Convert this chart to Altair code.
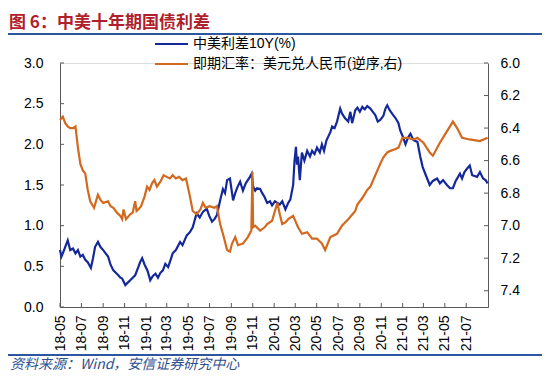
import altair as alt
import pandas as pd

# ---------------- data ----------------
series_names = ["中美利差10Y(%)", "即期汇率：美元兑人民币(逆序,右)"]

spread = [
    ("2018-05-01", 0.70), ("2018-05-05", 0.62), ("2018-05-09", 0.66), ("2018-05-16", 0.74),
    ("2018-05-23", 0.82), ("2018-05-30", 0.70), ("2018-06-07", 0.72), ("2018-06-14", 0.66),
    ("2018-06-21", 0.70), ("2018-06-28", 0.62), ("2018-07-05", 0.64), ("2018-07-12", 0.58),
    ("2018-07-19", 0.55), ("2018-07-28", 0.48), ("2018-08-03", 0.60), ("2018-08-09", 0.74),
    ("2018-08-17", 0.80), ("2018-08-24", 0.74), ("2018-09-01", 0.70), ("2018-09-08", 0.66),
    ("2018-09-15", 0.62), ("2018-09-22", 0.52), ("2018-09-30", 0.45), ("2018-10-07", 0.42),
    ("2018-10-14", 0.39), ("2018-10-20", 0.36), ("2018-10-25", 0.35), ("2018-11-03", 0.27),
    ("2018-11-10", 0.30), ("2018-11-17", 0.33), ("2018-11-24", 0.36), ("2018-12-01", 0.39),
    ("2018-12-10", 0.49), ("2018-12-15", 0.55), ("2018-12-21", 0.60), ("2018-12-28", 0.52),
    ("2019-01-05", 0.45), ("2019-01-13", 0.33), ("2019-01-20", 0.38), ("2019-01-28", 0.41),
    ("2019-02-04", 0.36), ("2019-02-11", 0.42), ("2019-02-18", 0.45), ("2019-02-25", 0.53),
    ("2019-03-05", 0.49), ("2019-03-12", 0.58), ("2019-03-18", 0.66), ("2019-03-27", 0.70),
    ("2019-04-08", 0.80), ("2019-04-15", 0.76), ("2019-04-27", 0.88), ("2019-05-06", 0.92),
    ("2019-05-14", 0.98), ("2019-05-25", 1.15), ("2019-06-03", 1.10), ("2019-06-12", 1.17),
    ("2019-06-23", 1.21), ("2019-06-30", 1.12), ("2019-07-08", 1.05), ("2019-07-15", 1.08),
    ("2019-07-22", 1.13), ("2019-07-31", 1.31), ("2019-08-08", 1.45), ("2019-08-14", 1.40),
    ("2019-08-20", 1.56), ("2019-08-28", 1.58), ("2019-09-06", 1.31), ("2019-09-12", 1.40),
    ("2019-09-19", 1.48), ("2019-09-26", 1.54), ("2019-10-04", 1.43), ("2019-10-12", 1.52),
    ("2019-10-24", 1.60), ("2019-10-29", 1.64), ("2019-11-02", 1.48), ("2019-11-08", 1.43),
    ("2019-11-13", 1.46), ("2019-11-22", 1.45), ("2019-11-28", 1.40), ("2019-12-05", 1.35),
    ("2019-12-12", 1.28), ("2019-12-20", 1.30), ("2019-12-26", 1.25), ("2020-01-03", 1.30),
    ("2020-01-10", 1.28), ("2020-01-17", 1.26), ("2020-01-24", 1.30), ("2020-02-02", 1.20),
    ("2020-02-10", 1.28), ("2020-02-16", 1.32), ("2020-02-24", 1.50), ("2020-02-28", 1.80),
    ("2020-03-03", 1.97), ("2020-03-06", 1.75), ("2020-03-09", 1.85), ("2020-03-14", 1.56),
    ("2020-03-20", 1.90), ("2020-03-27", 1.80), ("2020-04-04", 1.92), ("2020-04-12", 1.85),
    ("2020-04-18", 1.92), ("2020-04-25", 1.88), ("2020-05-02", 1.96), ("2020-05-10", 1.90),
    ("2020-05-16", 2.00), ("2020-05-22", 1.92), ("2020-05-29", 2.05), ("2020-06-09", 2.15),
    ("2020-06-14", 2.22), ("2020-06-21", 2.20), ("2020-06-28", 2.28), ("2020-07-07", 2.44),
    ("2020-07-12", 2.38), ("2020-07-21", 2.32), ("2020-07-30", 2.28), ("2020-08-05", 2.40),
    ("2020-08-10", 2.26), ("2020-08-19", 2.42), ("2020-08-25", 2.45), ("2020-09-01", 2.40),
    ("2020-09-08", 2.46), ("2020-09-15", 2.43), ("2020-09-22", 2.47), ("2020-10-01", 2.44),
    ("2020-10-08", 2.40), ("2020-10-15", 2.36), ("2020-10-22", 2.28), ("2020-10-29", 2.30),
    ("2020-11-07", 2.35), ("2020-11-13", 2.44), ("2020-11-18", 2.48), ("2020-11-25", 2.42),
    ("2020-12-05", 2.36), ("2020-12-12", 2.32), ("2020-12-20", 2.26), ("2020-12-25", 2.17),
    ("2021-01-01", 2.10), ("2021-01-09", 2.00), ("2021-01-16", 2.08), ("2021-01-23", 2.13),
    ("2021-02-01", 2.05), ("2021-02-12", 2.03), ("2021-02-20", 1.85), ("2021-02-27", 1.72),
    ("2021-03-08", 1.62), ("2021-03-19", 1.50), ("2021-03-28", 1.55), ("2021-04-09", 1.58),
    ("2021-04-17", 1.52), ("2021-04-26", 1.56), ("2021-05-07", 1.50), ("2021-05-16", 1.46),
    ("2021-05-24", 1.46), ("2021-06-01", 1.55), ("2021-06-13", 1.64), ("2021-06-19", 1.58),
    ("2021-06-26", 1.66), ("2021-07-03", 1.70), ("2021-07-11", 1.74), ("2021-07-18", 1.62),
    ("2021-08-01", 1.60), ("2021-08-09", 1.66), ("2021-08-18", 1.58), ("2021-08-25", 1.56),
    ("2021-08-31", 1.52),
]

usdcny = [
    ("2018-05-01", 6.35), ("2018-05-09", 6.33), ("2018-05-16", 6.37), ("2018-05-23", 6.39),
    ("2018-05-30", 6.40), ("2018-06-07", 6.40), ("2018-06-14", 6.39), ("2018-06-21", 6.52),
    ("2018-06-28", 6.62), ("2018-07-05", 6.66), ("2018-07-12", 6.68), ("2018-07-19", 6.78),
    ("2018-07-26", 6.85), ("2018-08-06", 6.89), ("2018-08-17", 6.81), ("2018-08-24", 6.84),
    ("2018-09-01", 6.86), ("2018-09-15", 6.85), ("2018-09-22", 6.88), ("2018-09-30", 6.89),
    ("2018-10-10", 6.92), ("2018-10-20", 6.94), ("2018-10-25", 6.96), ("2018-10-29", 6.90),
    ("2018-11-05", 6.96), ("2018-11-17", 6.93), ("2018-11-24", 6.92), ("2018-12-01", 6.85),
    ("2018-12-05", 6.91), ("2018-12-10", 6.90), ("2018-12-18", 6.88), ("2018-12-28", 6.82),
    ("2019-01-04", 6.76), ("2019-01-11", 6.78), ("2019-01-18", 6.74), ("2019-01-25", 6.72),
    ("2019-02-01", 6.76), ("2019-02-11", 6.73), ("2019-02-20", 6.69), ("2019-03-01", 6.70),
    ("2019-03-10", 6.71), ("2019-03-18", 6.69), ("2019-03-27", 6.71), ("2019-04-05", 6.70),
    ("2019-04-15", 6.72), ("2019-04-25", 6.71), ("2019-05-06", 6.82), ("2019-05-14", 6.91),
    ("2019-05-25", 6.93), ("2019-06-05", 6.90), ("2019-06-12", 6.86), ("2019-06-20", 6.89),
    ("2019-07-01", 6.88), ("2019-07-15", 6.89), ("2019-07-22", 6.88), ("2019-07-31", 6.99),
    ("2019-08-08", 7.05), ("2019-08-20", 7.15), ("2019-08-28", 7.16), ("2019-09-03", 7.11),
    ("2019-09-12", 7.07), ("2019-09-20", 7.12), ("2019-10-04", 7.11), ("2019-10-18", 7.07),
    ("2019-10-28", 7.03), ("2019-10-31", 6.67), ("2019-11-02", 7.01), ("2019-11-08", 7.00),
    ("2019-11-22", 7.03), ("2019-12-05", 7.01), ("2019-12-12", 6.99), ("2019-12-26", 6.97),
    ("2020-01-10", 6.86), ("2020-01-17", 6.93), ("2020-01-24", 6.99), ("2020-02-02", 6.98),
    ("2020-02-10", 6.96), ("2020-02-24", 6.94), ("2020-03-09", 7.01), ("2020-03-20", 7.05),
    ("2020-04-04", 7.04), ("2020-04-18", 7.08), ("2020-05-02", 7.08), ("2020-05-16", 7.11),
    ("2020-05-25", 7.15), ("2020-06-09", 7.07), ("2020-06-28", 7.05), ("2020-07-12", 7.00),
    ("2020-07-30", 6.96), ("2020-08-19", 6.91), ("2020-08-25", 6.87), ("2020-09-08", 6.83),
    ("2020-09-22", 6.78), ("2020-10-01", 6.76), ("2020-10-15", 6.69), ("2020-10-29", 6.62),
    ("2020-11-07", 6.58), ("2020-11-18", 6.55), ("2020-11-27", 6.54), ("2020-12-10", 6.53),
    ("2020-12-20", 6.52), ("2020-12-31", 6.46), ("2021-01-15", 6.46), ("2021-02-01", 6.47),
    ("2021-02-12", 6.46), ("2021-03-01", 6.49), ("2021-03-19", 6.55), ("2021-03-28", 6.57),
    ("2021-04-17", 6.49), ("2021-05-07", 6.42), ("2021-05-24", 6.36), ("2021-06-05", 6.40),
    ("2021-06-19", 6.46), ("2021-07-11", 6.47), ("2021-08-09", 6.48), ("2021-08-31", 6.46),
]

x_tick_labels = ["18-05", "18-07", "18-09", "18-11", "19-01", "19-03", "19-05", "19-07",
                 "19-09", "19-11", "20-01", "20-03", "20-05", "20-07", "20-09", "20-11",
                 "21-01", "21-03", "21-05", "21-07"]
left_ticks = [0.0, 0.5, 1.0, 1.5, 2.0, 2.5, 3.0]
right_ticks = [6.0, 6.2, 6.4, 6.6, 6.8, 7.0, 7.2, 7.4]
left_domain = [0.0, 3.0]
right_domain = [6.0, 7.5]

title_text = "图 6：中美十年期国债利差"
source_text = "资料来源：Wind，安信证券研究中心"

# ---------------- style ----------------
W, H = 428, 244
BLUE = "#15289A"
ORANGE = "#D2691E"
AXIS_C = "#595959"
FONT = "Liberation Sans, Arial, Noto Sans CJK SC"
CJK = "Noto Sans CJK SC"

spread_df = pd.DataFrame(spread, columns=["date", "value"])
fx_df = pd.DataFrame(usdcny, columns=["date", "value"])
xt_df = pd.DataFrame({"date": [f"20{s[:2]}-{s[3:]}-01" for s in x_tick_labels]})
lt_df = pd.DataFrame({"v": left_ticks})
rt_df = pd.DataFrame({"v": right_ticks})
one = pd.DataFrame({"k": [0]})

x_vals = [alt.DateTime(year=2000 + int(s[:2]), month=int(s[3:]), date=1, utc=True)
          for s in x_tick_labels]
x_scale = alt.Scale(type="utc", nice=False,
                    domain=[alt.DateTime(year=2018, month=5, date=1, utc=True),
                            alt.DateTime(year=2021, month=9, date=1, utc=True)])
x_axis = alt.Axis(values=x_vals, labelExpr="utcFormat(datum.value, '%y-%m')",
                  labelAngle=270, labelAlign="right", labelBaseline="middle",
                  labelPadding=8, labelFontSize=14, labelFont=FONT, labelColor="#000",
                  ticks=False, grid=False, domainColor=AXIS_C, title=None,
                  labelOverlap=False)
left_scale = alt.Scale(domain=left_domain, nice=False, zero=False)
right_scale = alt.Scale(domain=right_domain, nice=False, zero=False, reverse=True)

blue_line = alt.Chart(spread_df).mark_line(color=BLUE, strokeWidth=2.2).encode(
    x=alt.X("date:T", scale=x_scale, axis=x_axis),
    y=alt.Y("value:Q", scale=left_scale,
            axis=alt.Axis(orient="left", values=left_ticks, format=".1f", ticks=False,
                          grid=False, labelPadding=17, labelFontSize=14, labelFont=FONT,
                          labelColor="#000", domainColor=AXIS_C, title=None)),
)
orange_line = alt.Chart(fx_df).mark_line(color=ORANGE, strokeWidth=2.2).encode(
    x=alt.X("date:T", scale=x_scale, axis=x_axis),
    y=alt.Y("value:Q", scale=right_scale,
            axis=alt.Axis(orient="right", values=right_ticks, format=".1f", ticks=False,
                          grid=False, labelPadding=12, labelFontSize=14, labelFont=FONT,
                          labelColor="#000", domainColor=AXIS_C, title=None)),
)

# inward tick marks
lt = alt.Chart(lt_df).mark_rule(color=AXIS_C).encode(
    y=alt.Y("v:Q", scale=left_scale, axis=None), x=alt.value(0), x2=alt.value(4))
rt = alt.Chart(rt_df).mark_rule(color=AXIS_C).encode(
    y=alt.Y("v:Q", scale=right_scale, axis=None), x=alt.value(W - 4), x2=alt.value(W))
xt = alt.Chart(xt_df).mark_rule(color=AXIS_C).encode(
    x=alt.X("date:T", scale=x_scale, axis=x_axis), y=alt.value(H - 4), y2=alt.value(H))

# legend (manual)
leg_rows = [-19, 1]
leg_colors = [BLUE, ORANGE]
legend_layers = []
for name, col, yy in zip(series_names, leg_colors, leg_rows):
    legend_layers.append(alt.Chart(one).mark_rule(color=col, strokeWidth=2).encode(
        x=alt.value(95), x2=alt.value(128), y=alt.value(yy)))
    legend_layers.append(alt.Chart(one).mark_text(
        align="left", baseline="middle", fontSize=14, font=FONT, color="#000").encode(
        x=alt.value(133), y=alt.value(yy), text=alt.value(name)))

# title, rules, source
title_mark = alt.Chart(one).mark_text(
    align="left", baseline="middle", fontSize=17, fontWeight="bold", font=CJK,
    color="#B0202A").encode(x=alt.value(-51), y=alt.value(-40), text=alt.value(title_text))
top_rule = alt.Chart(one).mark_rule(color="#2C57A0", strokeWidth=2).encode(
    x=alt.value(-52), x2=alt.value(W + 54), y=alt.value(-29))
bot_rule = alt.Chart(one).mark_rule(color="#2C57A0", strokeWidth=2).encode(
    x=alt.value(-52), x2=alt.value(W + 54), y=alt.value(292))
source_mark = alt.Chart(one).mark_text(
    align="left", baseline="middle", fontSize=14, fontStyle="italic", font=CJK,
    color="#2F4F8F").encode(x=alt.value(-50), y=alt.value(302), text=alt.value(source_text))

chart = alt.layer(
    blue_line, orange_line, lt, rt, xt, *legend_layers, title_mark, top_rule, bot_rule,
    source_mark
).resolve_scale(y="independent").properties(
    width=W, height=H,
    autosize=alt.AutoSizeParams(type="none"),
    padding={"left": 52, "top": 55, "right": 54, "bottom": 65},
).configure_view(stroke=None).configure(background="white")

chart.save("out.html", embed_options={"renderer": "svg", "actions": False})
